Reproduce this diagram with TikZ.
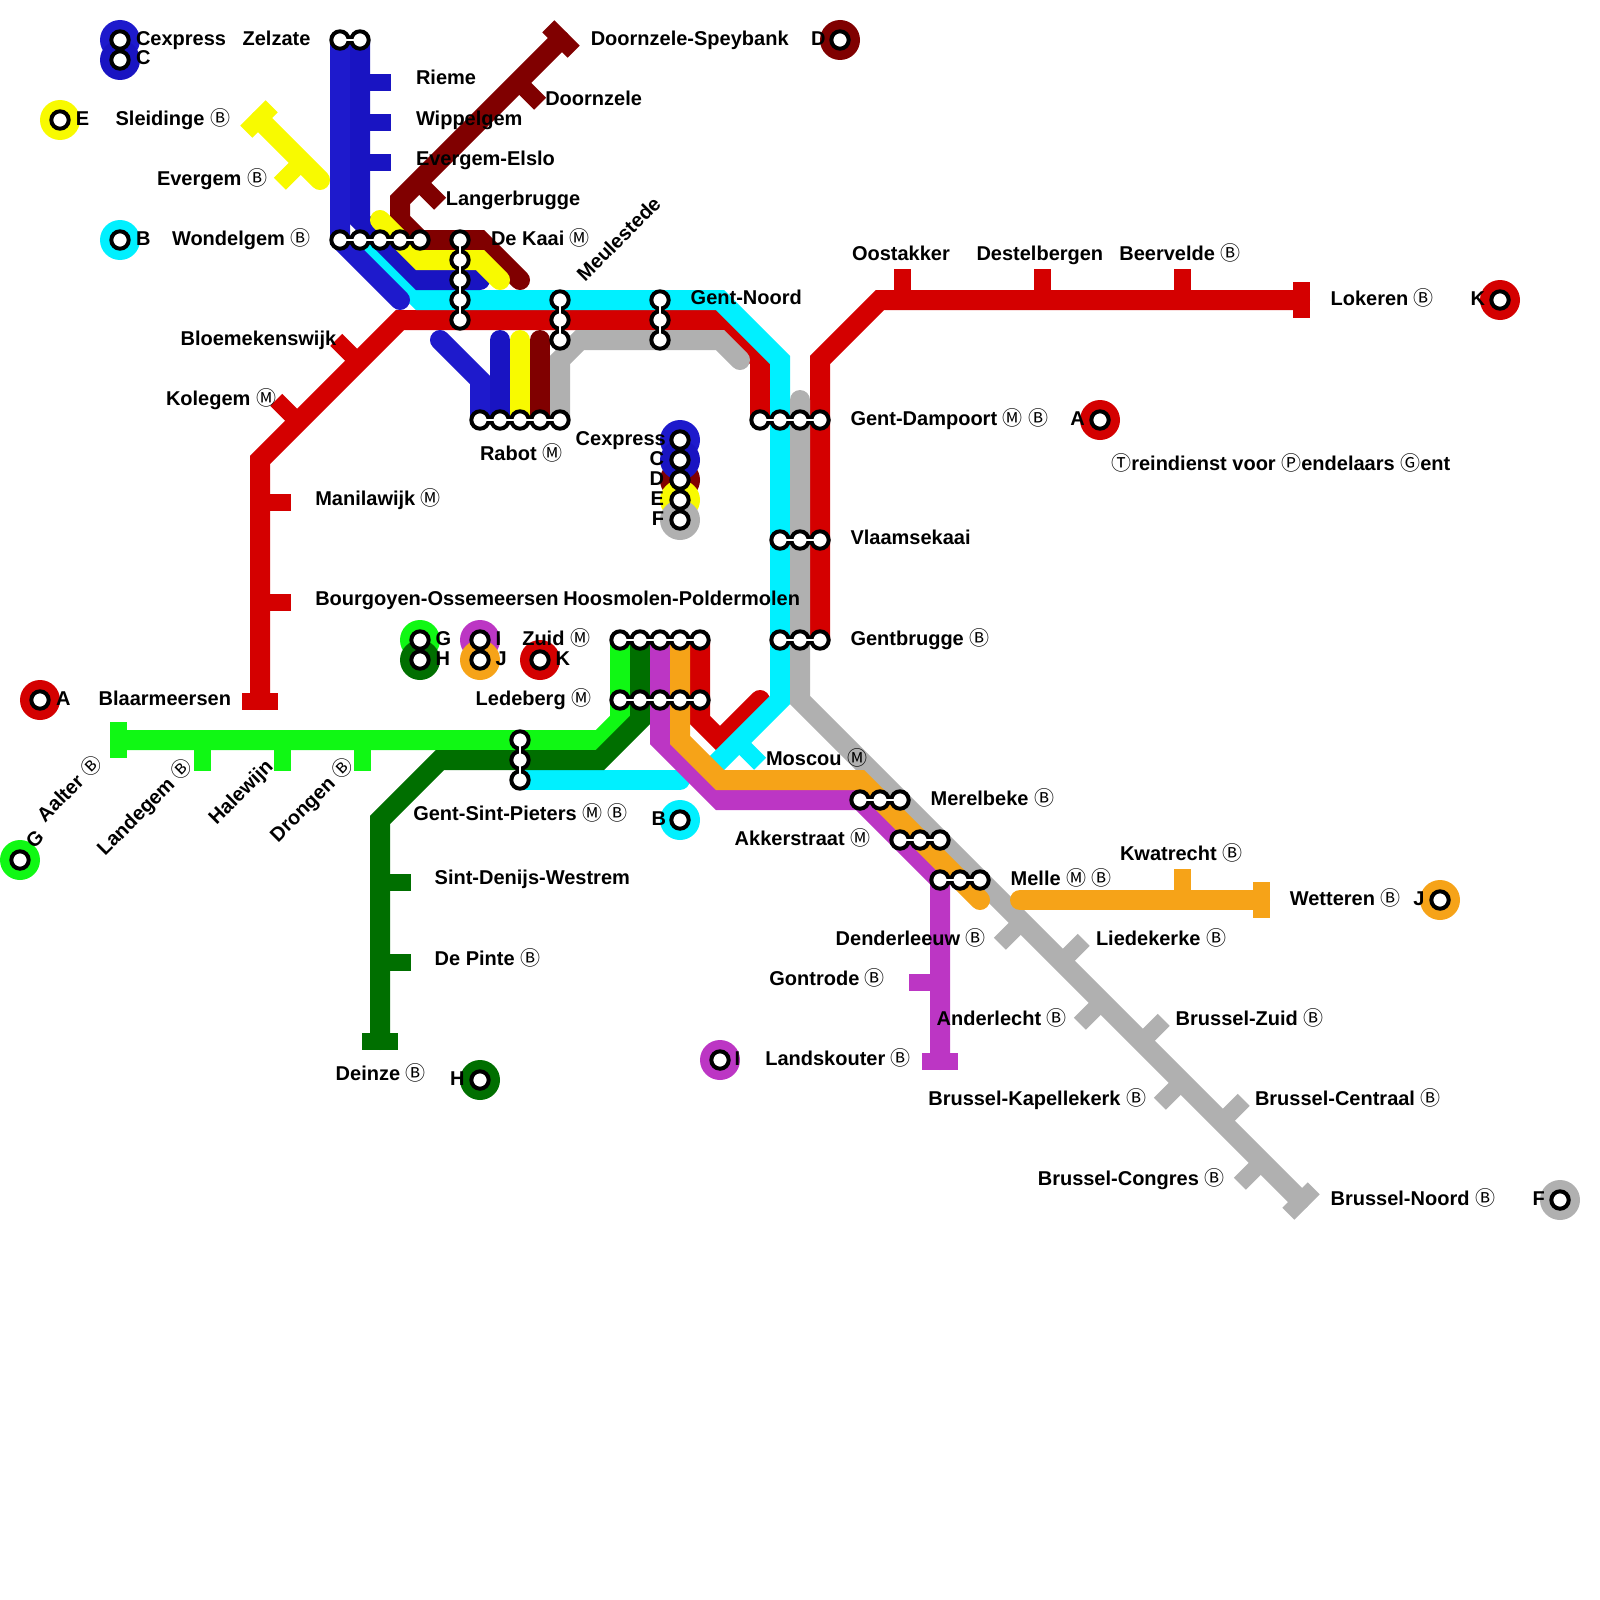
\documentclass[tikz,border=0pt]{standalone}
\usepackage{fontspec}
\setmainfont{Liberation Sans}
\newfontfamily\circledfont{Noto Sans CJK JP}
\usepackage{xcolor}
\usepackage{tikz}
\definecolor{lineA}{RGB}{212,0,0}
\definecolor{lineB}{RGB}{0,240,255}
\definecolor{lineC}{RGB}{25,20,194}
\definecolor{lineX}{RGB}{30,26,204}
\definecolor{lineD}{RGB}{128,0,0}
\definecolor{lineE}{RGB}{248,250,0}
\definecolor{lineF}{RGB}{176,176,176}
\definecolor{lineG}{RGB}{16,248,20}
\definecolor{lineH}{RGB}{0,111,0}
\definecolor{lineI}{RGB}{188,54,196}
\definecolor{lineJ}{RGB}{246,163,24}
\newcommand{\bahn}{{\circledfont\mdseries Ⓑ}}
\newcommand{\metro}{{\circledfont\mdseries Ⓜ}}
\newcommand{\ringletter}[1]{{\circledfont\mdseries #1}}
% a group of stops: name, then x/y of each
\newcommand{\stops}[2]{\foreach \x/\y [count=\i] in {#2} {\coordinate (#1\i) at (\x,\y);}}
% rings of a group of stops: name, count
\newcommand{\hub}[2]{%
  \draw[hubneck] (#11) -- (#1#2);
  \foreach \i in {1,...,#2} {\node[stopring] (#1ring\i) at (#1\i) {};}
  \draw[hubcore] (#11) -- (#1#2);}
% name/colour/x/y of the line letters
\newcommand{\letterlist}{topexpress/lineX/120/40, topc/lineC/120/60, tope/lineE/60/120, topb/lineB/120/240,
  topd/lineD/840/40, rightk/lineA/1500/300, righta/lineA/1100/420,
  midd/lineD/680/480, midexpress/lineX/680/440, midc/lineC/680/460, mide/lineE/680/500, midf/lineF/680/520,
  zuidg/lineG/420/640, zuidh/lineH/420/660, zuidi/lineI/480/640, zuidj/lineJ/480/660, zuidk/lineA/540/660,
  lefta/lineA/40/700, leftg/lineG/20/860, lowb/lineB/680/820, lowh/lineH/480/1080, lowi/lineI/720/1060,
  rightj/lineJ/1440/900, rightf/lineF/1560/1200}

\begin{document}
\begin{tikzpicture}[
    x=1pt, y=-1pt,
    railway/.style={line width=20pt, line cap=round, miter limit=10},
    stopmark/.style={line width=17pt},
    stopring/.style={circle, draw=black, fill=white, line width=4pt, minimum size=17.4pt, inner sep=0pt, outer sep=0pt},
    legenddisc/.style={circle, minimum size=40pt, inner sep=0pt, outer sep=0pt},
    hubneck/.style={black, line width=8pt},
    hubcore/.style={white, line width=2.4pt},
    stationlabel/.style={anchor=base west, inner sep=0pt, outer sep=0pt, font=\fontsize{20}{24}\selectfont\bfseries},
    turnedlabel/.style={stationlabel, rotate=45}
  ]
    \useasboundingbox (0,0) rectangle (1600,1600);
    % stops
    \stops{zelzate}{340/40,360/40}
    \stops{wondelgem}{340/240,360/240,380/240,400/240,420/240}
    \stops{dekaai}{460/240,460/260,460/280,460/300,460/320}
    \stops{meulestede}{560/300,560/320,560/340}
    \stops{gentnoord}{660/300,660/320,660/340}
    \stops{rabot}{480/420,500/420,520/420,540/420,560/420}
    \stops{dampoort}{760/420,780/420,800/420,820/420}
    \stops{vlaamsekaai}{780/540,800/540,820/540}
    \stops{gentbrugge}{780/640,800/640,820/640}
    \stops{zuid}{620/640,640/640,660/640,680/640,700/640}
    \stops{ledeberg}{620/700,640/700,660/700,680/700,700/700}
    \stops{pieters}{520/740,520/760,520/780}
    \stops{merelbeke}{860/800,880/800,900/800}
    \stops{akkerstraat}{900/840,920/840,940/840}
    \stops{melle}{940/880,960/880,980/880}
    % line ends
    \coordinate (lokeren) at (1300,300);
    \coordinate (blaarmeersen) at (260,700);
    \coordinate (sleidinge) at (260,120);
    \coordinate (speybank) at (560,40);
    \coordinate (brusselnoord) at (1300,1200);
    \coordinate (aalter) at (120,740);
    \coordinate (deinze) at (380,1040);
    \coordinate (landskouter) at (940,1060);
    \coordinate (wetteren) at (1260,900);
    % red
    \draw[railway, lineA] (lokeren) -- (880,300) -- (820,360) -- (gentbrugge3);
    \draw[railway, lineA] (dampoort1) -- (760,360) -- (720,320) -- (400,320) -- (260,460) -- (blaarmeersen);
    \draw[railway, lineA] (zuid5) -- (700,720) -- (720,740) -- (760,700);
    \draw[stopmark, lineA] (902.5,300) -- (902.5,269);
    \draw[stopmark, lineA] (1042.5,300) -- (1042.5,269);
    \draw[stopmark, lineA] (1182.5,300) -- (1182.5,269);
    \draw[stopmark, lineA] (260,502.5) -- (291,502.5);
    \draw[stopmark, lineA] (260,602.5) -- (291,602.5);
    \draw[stopmark, lineA] (358.2,361.8) -- (336.3,339.9);
    \draw[stopmark, lineA] (298.2,421.8) -- (276.3,399.9);
    \draw[stopmark, lineA] (1301.5,282) -- (1301.5,318);
    \draw[stopmark, lineA] (242,701.5) -- (278,701.5);
    % cyan
    \draw[railway, lineB] (wondelgem2) -- (420,300) -- (720,300) -- (780,360) -- (780,700) -- (710,770);
    \draw[railway, lineB] (pieters3) -- (680,780);
    \draw[stopmark, lineB] (738.2,741.8) -- (760.1,763.7);
    % blue
    \draw[railway, lineX] (zelzate1) -- (wondelgem1) -- (400,300);
    \draw[railway, lineX] (440,340) -- (480,380) -- (rabot1);
    \draw[railway, lineC] (zelzate2) -- (360,220) -- (420,280) -- (480,280);
    \draw[railway, lineC] (500,340) -- (rabot2);
    \draw[stopmark, lineC] (360,82.5) -- (391,82.5);
    \draw[stopmark, lineC] (360,122.5) -- (391,122.5);
    \draw[stopmark, lineC] (360,162.5) -- (391,162.5);
    % dark red
    \draw[railway, lineD] (speybank) -- (400,200) -- (400,220) -- (420,240) -- (480,240) -- (520,280);
    \draw[railway, lineD] (540,340) -- (rabot4);
    \draw[stopmark, lineD] (548.3,26.3) -- (573.7,51.7);
    \draw[stopmark, lineD] (518.2,81.8) -- (540.1,103.7);
    \draw[stopmark, lineD] (418.2,181.8) -- (440.1,203.7);
    % yellow
    \draw[railway, lineE] (sleidinge) -- (320,180);
    \draw[railway, lineE] (380,220) -- (420,260) -- (480,260) -- (500,280);
    \draw[railway, lineE] (520,340) -- (rabot3);
    \draw[stopmark, lineE] (246.3,131.7) -- (271.7,106.3);
    \draw[stopmark, lineE] (301.8,161.8) -- (279.9,183.7);
    % grey
    \draw[railway, lineF] (rabot5) -- (560,360) -- (580,340) -- (720,340) -- (740,360);
    \draw[railway, lineF] (800,400) -- (800,700) -- (brusselnoord);
    \draw[stopmark, lineF] (1288.3,1213.7) -- (1313.7,1188.3);
    \draw[stopmark, lineF] (1021.8,921.8) -- (999.9,943.7);
    \draw[stopmark, lineF] (1101.8,1001.8) -- (1079.9,1023.7);
    \draw[stopmark, lineF] (1181.8,1081.8) -- (1159.9,1103.7);
    \draw[stopmark, lineF] (1261.8,1161.8) -- (1239.9,1183.7);
    \draw[stopmark, lineF] (1061.8,961.8) -- (1083.7,939.9);
    \draw[stopmark, lineF] (1141.8,1041.8) -- (1163.7,1019.9);
    \draw[stopmark, lineF] (1221.8,1121.8) -- (1243.7,1099.9);
    % green
    \draw[railway, lineG] (aalter) -- (600,740) -- (620,720) -- (zuid1);
    \draw[stopmark, lineG] (118.5,722) -- (118.5,758);
    \draw[stopmark, lineG] (202.5,740) -- (202.5,771);
    \draw[stopmark, lineG] (282.5,740) -- (282.5,771);
    \draw[stopmark, lineG] (362.5,740) -- (362.5,771);
    % dark green
    \draw[railway, lineH] (zuid2) -- (640,720) -- (600,760) -- (440,760) -- (380,820) -- (deinze);
    \draw[stopmark, lineH] (380,882.5) -- (411,882.5);
    \draw[stopmark, lineH] (380,962.5) -- (411,962.5);
    \draw[stopmark, lineH] (362,1041.5) -- (398,1041.5);
    % purple
    \draw[railway, lineI] (zuid3) -- (660,740) -- (720,800) -- (860,800) -- (940,880) -- (landskouter);
    \draw[stopmark, lineI] (940,982.5) -- (909,982.5);
    \draw[stopmark, lineI] (922,1061.5) -- (958,1061.5);
    % orange
    \draw[railway, lineJ] (zuid4) -- (680,740) -- (720,780) -- (860,780) -- (980,900);
    \draw[railway, lineJ] (1020,900) -- (wetteren);
    \draw[stopmark, lineJ] (1182.5,900) -- (1182.5,869);
    \draw[stopmark, lineJ] (1261.5,882) -- (1261.5,918);
    % rings
    \hub{zelzate}{2}
    \hub{wondelgem}{5}
    \hub{dekaai}{5}
    \hub{meulestede}{3}
    \hub{gentnoord}{3}
    \hub{rabot}{5}
    \hub{dampoort}{4}
    \hub{vlaamsekaai}{3}
    \hub{gentbrugge}{3}
    \hub{zuid}{5}
    \hub{ledeberg}{5}
    \hub{pieters}{3}
    \hub{merelbeke}{3}
    \hub{akkerstraat}{3}
    \hub{melle}{3}
    % line letters
    \foreach \n/\c/\x/\y in \letterlist {\node[legenddisc, fill=\c] (\n disc) at (\x,\y) {};}
    \foreach \n/\c/\x/\y in \letterlist {\node[stopring] (\n ring) at (\x,\y) {};}
    % texts
    \node[stationlabel] (expresstop) at (136,46) {Cexpress};
    \node[stationlabel] (ctop) at (136,65) {C};
    \node[stationlabel] (zelzatetext) at (242.6,46) {Zelzate};
    \node[stationlabel] (etop) at (75.8,125) {E};
    \node[stationlabel] (sleidingetext) at (115.6,125) {Sleidinge \bahn};
    \node[stationlabel] (evergemtext) at (157,185) {Evergem \bahn};
    \node[stationlabel] (btop) at (136,245) {B};
    \node[stationlabel] (wondelgemtext) at (172,245) {Wondelgem \bahn};
    \node[stationlabel] (riemetext) at (416,85) {Rieme};
    \node[stationlabel] (wippelgemtext) at (416,125) {Wippelgem};
    \node[stationlabel] (elslotext) at (416,165) {Evergem-Elslo};
    \node[stationlabel] (speybanktext) at (590.8,46) {Doornzele-Speybank};
    \node[stationlabel] (dtop) at (811,46) {D};
    \node[stationlabel] (doornzeletext) at (545.3,106) {Doornzele};
    \node[stationlabel] (langerbruggetext) at (445.8,205) {Langerbrugge};
    \node[stationlabel] (dekaaitext) at (491,245) {De Kaai \metro};
    \node[turnedlabel] (meulestedetext) at (585,282.5) {Meulestede};
    \node[stationlabel] (oostakkertext) at (852,260) {Oostakker};
    \node[stationlabel] (destelbergentext) at (976.5,260) {Destelbergen};
    \node[stationlabel] (beerveldetext) at (1119.4,260) {Beervelde \bahn};
    \node[stationlabel] (lokerentext) at (1330.6,305) {Lokeren \bahn};
    \node[stationlabel] (kright) at (1470.5,305) {K};
    \node[stationlabel] (gentnoordtext) at (690.7,304) {Gent-Noord};
    \node[stationlabel] (bloemekenstext) at (180.6,345) {Bloemekenswijk};
    \node[stationlabel] (kolegemtext) at (166,405) {Kolegem \metro};
    \node[stationlabel] (dampoorttext) at (850.5,425) {Gent-Dampoort \metro{} \bahn};
    \node[stationlabel] (aright) at (1070.4,425) {A};
    \node[stationlabel] (expressmid) at (575.7,445) {Cexpress};
    \node[stationlabel] (rabottext) at (480,460) {Rabot \metro};
    \node[stationlabel] (reizigerstext) at (1111.3,470) {\ringletter{Ⓣ}reindienst voor \ringletter{Ⓟ}endelaars \ringletter{Ⓖ}ent};
    \node[stationlabel, anchor=base east] (cmid) at (664,465) {C};
    \node[stationlabel, anchor=base east] (dmid) at (664,485) {D};
    \node[stationlabel, anchor=base east] (emid) at (664,505) {E};
    \node[stationlabel, anchor=base east] (fmid) at (664,525) {F};
    \node[stationlabel] (manilawijktext) at (315.3,505) {Manilawijk \metro};
    \node[stationlabel] (vlaamsekaaitext) at (850.5,544) {Vlaamsekaai};
    \node[stationlabel] (bourgoyentext) at (315.3,605) {Bourgoyen-Ossemeersen};
    \node[stationlabel] (hoosmolentext) at (563.3,605) {Hoosmolen-Poldermolen};
    \node[stationlabel] (gzuid) at (435.7,645) {G};
    \node[stationlabel] (hzuid) at (435.7,665) {H};
    \node[stationlabel] (izuid) at (495.7,645) {I};
    \node[stationlabel] (jzuid) at (495.7,665) {J};
    \node[stationlabel] (zuidtext) at (522.3,645) {Zuid \metro};
    \node[stationlabel] (kzuid) at (555.7,665) {K};
    \node[stationlabel] (gentbruggetext) at (850.5,645) {Gentbrugge \bahn};
    \node[stationlabel] (aleft) at (56,705) {A};
    \node[stationlabel] (blaarmeersentext) at (98.7,705) {Blaarmeersen};
    \node[stationlabel] (ledebergtext) at (475.7,705) {Ledeberg \metro};
    \node[stationlabel] (moscoutext) at (766,765) {Moscou \metro};
    \node[turnedlabel] (aaltertext) at (45,823) {Aalter \bahn};
    \node[turnedlabel] (landegemtext) at (105,856.5) {Landegem \bahn};
    \node[turnedlabel] (halewijntext) at (216.7,825.5) {Halewijn};
    \node[turnedlabel] (drongentext) at (278,843) {Drongen \bahn};
    \node[turnedlabel] (gleft) at (34,849) {G};
    \node[stationlabel] (pieterstext) at (413.3,820) {Gent-Sint-Pieters \metro{} \bahn};
    \node[stationlabel] (blow) at (651.7,825) {B};
    \node[stationlabel] (merelbeketext) at (930.7,805) {Merelbeke \bahn};
    \node[stationlabel] (akkerstraattext) at (734.7,845) {Akkerstraat \metro};
    \node[stationlabel] (kwatrechttext) at (1120,860) {Kwatrecht \bahn};
    \node[stationlabel] (melletext) at (1010.7,885) {Melle \metro{} \bahn};
    \node[stationlabel] (sintdenijstext) at (434.7,884) {Sint-Denijs-Westrem};
    \node[stationlabel] (wetterentext) at (1289.8,905) {Wetteren \bahn};
    \node[stationlabel] (jright) at (1413.3,905) {J};
    \node[stationlabel] (denderleeuwtext) at (835.7,945) {Denderleeuw \bahn};
    \node[stationlabel] (liedekerketext) at (1096,945) {Liedekerke \bahn};
    \node[stationlabel] (depintetext) at (434.7,965) {De Pinte \bahn};
    \node[stationlabel] (gontrodetext) at (769.4,985) {Gontrode \bahn};
    \node[stationlabel] (anderlechttext) at (936.7,1025) {Anderlecht \bahn};
    \node[stationlabel] (brusselzuidtext) at (1175.7,1025) {Brussel-Zuid \bahn};
    \node[stationlabel] (ilow) at (734.7,1065) {I};
    \node[stationlabel] (landskoutertext) at (765.3,1065) {Landskouter \bahn};
    \node[stationlabel] (deinzetext) at (335.7,1080) {Deinze \bahn};
    \node[stationlabel] (hlow) at (450,1085) {H};
    \node[stationlabel] (kapellekerktext) at (928.3,1105) {Brussel-Kapellekerk \bahn};
    \node[stationlabel] (centraaltext) at (1255,1105) {Brussel-Centraal \bahn};
    \node[stationlabel] (congrestext) at (1037.8,1185) {Brussel-Congres \bahn};
    \node[stationlabel] (brusselnoordtext) at (1330.6,1205) {Brussel-Noord \bahn};
    \node[stationlabel] (fright) at (1532.7,1205) {F};
  \end{tikzpicture}
\end{document}
